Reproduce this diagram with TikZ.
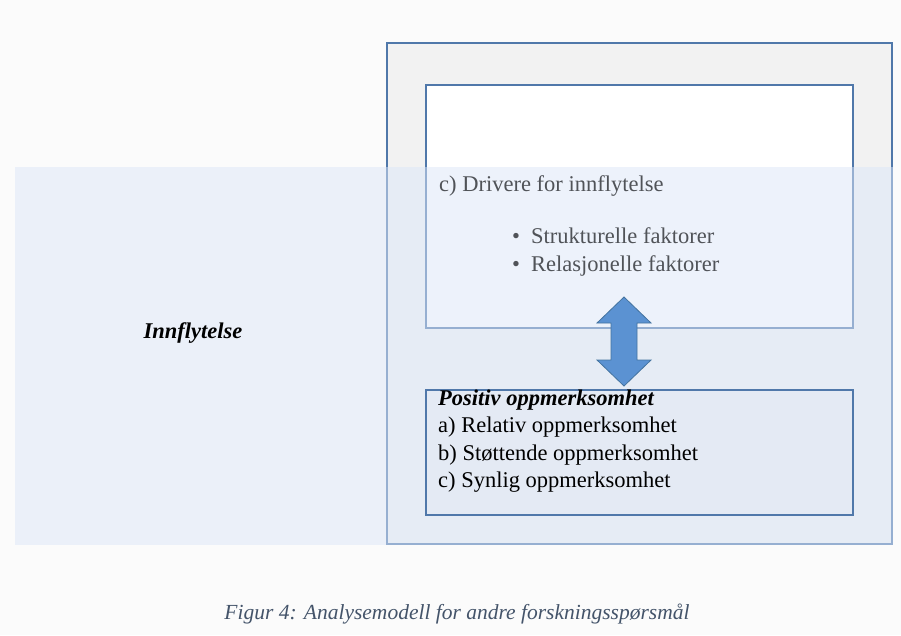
\documentclass[tikz,border=0pt]{standalone}
\usepackage{fontspec}
\setmainfont{Liberation Serif}
\begin{document}
\begin{tikzpicture}[x=1pt,y=-1pt]
  \definecolor{pagebg}{HTML}{FBFBFB}
  \definecolor{frameline}{HTML}{5078AA}
  \definecolor{outerfill}{HTML}{F2F2F2}
  \definecolor{bandfill}{HTML}{DCE7F8}
  \definecolor{lowerfill}{HTML}{E4EAF4}
  \definecolor{arrowfill}{HTML}{5B92D2}
  \definecolor{arrowline}{HTML}{44739F}
  \definecolor{captioncol}{HTML}{44546A}
  \definecolor{softtext}{HTML}{505358}
  \tikzset{
    panel/.style={draw=frameline, line width=1.8pt, anchor=north west, inner sep=0pt},
    bodytext/.style={font=\fontsize{22.5}{27.5}\selectfont, inner sep=0pt, anchor=base west},
    headtext/.style={bodytext, font=\fontsize{22.5}{27.5}\selectfont\bfseries\itshape},
    uppertext/.style={bodytext, text=softtext}
  }
  \useasboundingbox (0,0) rectangle (901,635);
  \fill[pagebg] (0,0) rectangle (901,635);

  % outer frame and upper box
  \node[panel, fill=outerfill, minimum width=505pt, minimum height=501pt] (outer) at (386,42) {};
  \node[panel, fill=white, minimum width=427pt, minimum height=243pt] (upper) at (425,84) {};

  % translucent influence band
  \fill[bandfill, fill opacity=0.5] (15,167) rectangle (outer.south east);

  % text of the upper box
  \node[uppertext] (drivers) at (439,191) {c) Drivere for innflytelse};
  \node[uppertext] (b1) at (512,243) {•};
  \node[uppertext] (struct) at (531,243) {Strukturelle faktorer};
  \node[uppertext] (b2) at (512,271) {•};
  \node[uppertext] (rel) at (531,271) {Relasjonelle faktorer};

  % lower box
  \node[panel, fill=lowerfill, minimum width=427pt, minimum height=125pt] (lower) at (425,389) {};
  \node[headtext] (poshead) at (438,405) {Positiv oppmerksomhet};
  \node[bodytext] (la) at (438,432.5) {a) Relativ oppmerksomhet};
  \node[bodytext] (lb) at (438,460) {b) Støttende oppmerksomhet};
  \node[bodytext] (lc) at (438,487.5) {c) Synlig oppmerksomhet};

  % double arrow between the boxes
  \coordinate (atop) at (624,297);
  \coordinate (abot) at (624,386);
  \draw[arrowline, fill=arrowfill, line width=0.8pt, line join=miter]
    (atop) -- ++(27,26) -- ++(-14,0) -- ++(0,37) -- ++(14,0)
    -- (abot) -- ++(-27,-26) -- ++(14,0) -- ++(0,-37) -- ++(-14,0) -- cycle;

  \node[headtext, anchor=center] (influence) at (193,333) {Innflytelse};

  % caption
  \node[font=\fontsize{21.5}{26}\selectfont\itshape, text=captioncol, inner sep=0pt] (caption) at (457,614) {Figur 4: Analysemodell for andre forskningsspørsmål};
\end{tikzpicture}
\end{document}
